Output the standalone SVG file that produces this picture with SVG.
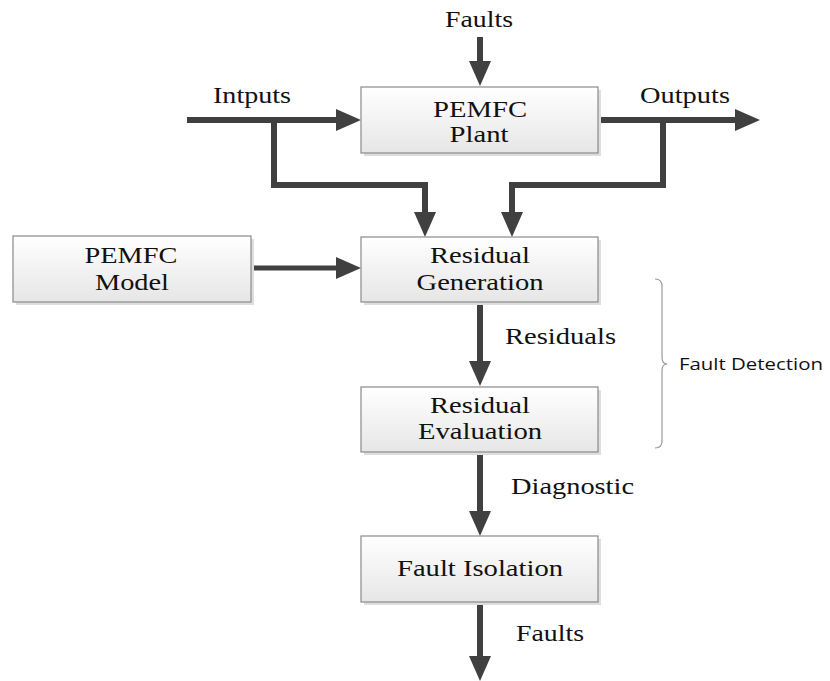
<svg xmlns="http://www.w3.org/2000/svg" width="830" height="681" viewBox="0 0 830 681">
<style>
.box{fill:url(#g);stroke:#8a8a8a;stroke-width:1.2}
.sh{fill:#dedede}
.t{font-family:"Liberation Serif","Times New Roman",serif;font-size:24px;fill:#111}
.c{text-anchor:middle}
.ln{fill:none;stroke:#404040;stroke-width:6;stroke-linejoin:miter}
.s{font-family:"Open Sans","DejaVu Sans",sans-serif;font-size:17px;fill:#111}
</style>
<defs>
<linearGradient id="g" x1="0" y1="0" x2="0" y2="1">
<stop offset="0" stop-color="#ffffff"/>
<stop offset="1" stop-color="#e6e6e6"/>
</linearGradient>
<marker id="ah" markerUnits="userSpaceOnUse" markerWidth="26" markerHeight="24" refX="0" refY="12" orient="auto" viewBox="0 0 26 24">
<path d="M0,1 L25,12 L0,23 z" fill="#404040"/>
</marker>
</defs>

<g id="connectors">
<line class="ln" x1="480" y1="37" x2="480" y2="61" marker-end="url(#ah)"/>
<line class="ln" x1="187" y1="120" x2="336" y2="120" marker-end="url(#ah)"/>
<path class="ln" d="M274,120 V185 H425 V212" marker-end="url(#ah)"/>
<line class="ln" x1="598" y1="120" x2="735" y2="120" marker-end="url(#ah)"/>
<path class="ln" d="M663,120 V185 H512 V212" marker-end="url(#ah)"/>
<line class="ln" x1="251" y1="268" x2="336" y2="268" style="stroke-width:5" marker-end="url(#ah)"/>
<line class="ln" x1="480" y1="302" x2="480" y2="361" marker-end="url(#ah)"/>
<line class="ln" x1="480" y1="452" x2="480" y2="511" marker-end="url(#ah)"/>
<line class="ln" x1="480" y1="602" x2="480" y2="656" marker-end="url(#ah)"/>
<text class="t" x="445" y="27" textLength="68" lengthAdjust="spacingAndGlyphs">Faults</text>
<text class="t" x="213" y="103" textLength="78" lengthAdjust="spacingAndGlyphs">Intputs</text>
<text class="t" x="640" y="103" textLength="90" lengthAdjust="spacingAndGlyphs">Outputs</text>
<text class="t" x="505" y="344" textLength="111" lengthAdjust="spacingAndGlyphs">Residuals</text>
<text class="t" x="511" y="494" textLength="123" lengthAdjust="spacingAndGlyphs">Diagnostic</text>
<text class="t" x="516" y="641" textLength="68" lengthAdjust="spacingAndGlyphs">Faults</text>
</g>

<g id="plant">
<rect class="sh" x="364" y="90" width="237" height="66"/>
<rect class="box" x="361" y="87" width="237" height="66"/>
<text class="t c" x="480" y="117" textLength="94" lengthAdjust="spacingAndGlyphs">PEMFC</text>
<text class="t c" x="479" y="142" textLength="59" lengthAdjust="spacingAndGlyphs">Plant</text>
</g>

<g id="model">
<rect class="sh" x="16" y="239" width="238" height="66"/>
<rect class="box" x="13" y="236" width="238" height="66"/>
<text class="t c" x="131" y="263" textLength="93" lengthAdjust="spacingAndGlyphs">PEMFC</text>
<text class="t c" x="132" y="290" textLength="74" lengthAdjust="spacingAndGlyphs">Model</text>
</g>

<g id="resgen">
<rect class="sh" x="364" y="240" width="237" height="65"/>
<rect class="box" x="361" y="237" width="237" height="65"/>
<text class="t c" x="480" y="263" textLength="100" lengthAdjust="spacingAndGlyphs">Residual</text>
<text class="t c" x="480" y="290" textLength="127" lengthAdjust="spacingAndGlyphs">Generation</text>
</g>

<g id="reseval">
<rect class="sh" x="364" y="390" width="237" height="65"/>
<rect class="box" x="361" y="387" width="237" height="65"/>
<text class="t c" x="480" y="413" textLength="100" lengthAdjust="spacingAndGlyphs">Residual</text>
<text class="t c" x="480" y="439" textLength="124" lengthAdjust="spacingAndGlyphs">Evaluation</text>
</g>

<g id="isolation">
<rect class="sh" x="364" y="539" width="237" height="66"/>
<rect class="box" x="361" y="536" width="237" height="66"/>
<text class="t c" x="480" y="576" textLength="166" lengthAdjust="spacingAndGlyphs">Fault Isolation</text>
</g>

<g id="brace">
<path d="M655,279 Q662,279 662,286 V357 Q662,364 667,364 Q662,364 662,371 V441 Q662,448 655,448" fill="none" stroke="#9a9a9a" stroke-width="1.2"/>
<text class="s" x="679" y="370" textLength="144" lengthAdjust="spacingAndGlyphs">Fault Detection</text>
</g>
</svg>
